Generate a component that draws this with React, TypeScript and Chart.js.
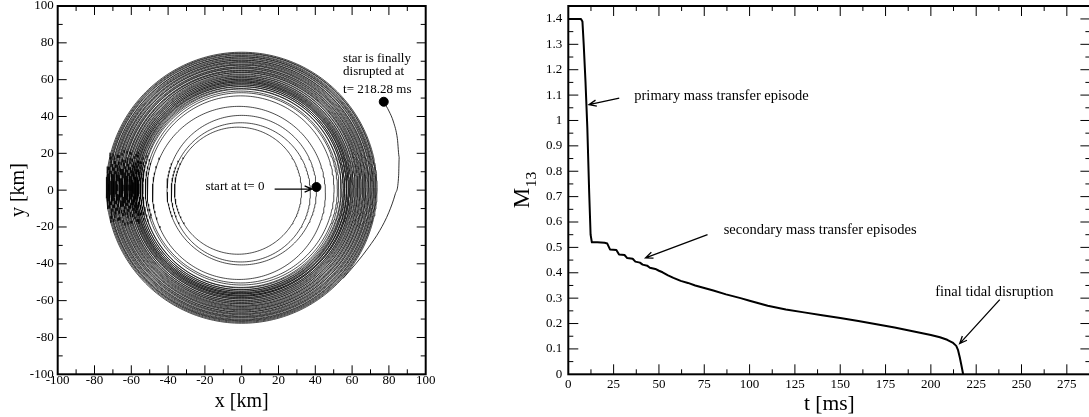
import React, { useEffect, useRef } from "react";
import { Chart, registerables } from "chart.js";
Chart.register(...registerables);

const FONT = "'Liberation Serif', 'Times New Roman', Times, serif";

// ---------------- left panel: orbit (x, y in km) ----------------
const orbitTicks = [-100, -80, -60, -40, -20, 0, 20, 40, 60, 80, 100];
const orbitMinorTicks = [-90, -70, -50, -30, -10, 10, 30, 50, 70, 90];

// loops of the orbit: mean radius and centre of each loop
const loopRadius = [
  34.5, 37.8, 40.6, 47.0,
  50.8, 52.2, 53.3, 54.0, 54.6, 55.1, 55.6, 56.0, 56.4, 56.8, 57.2, 57.5,
  57.9, 58.2, 58.6, 58.9, 59.3, 59.7, 60.1, 60.5, 61.0, 61.4, 61.9, 62.4,
  62.8, 63.2, 63.7, 64.1, 64.6, 65.0, 65.5, 65.9, 66.4, 66.8, 67.3, 67.7,
  68.2, 68.6, 69.1, 69.5, 70.0, 70.4, 70.9, 71.3, 71.8, 72.2, 72.7, 73.1, 73.6,
];
const loopCenterX = [
  -2.0, -0.5, 0.0, -1.5,
  -0.6, -0.2, -0.5, -0.1, -0.4, 0.0, -0.3, -0.1, -0.4, 0.0, -0.2, -0.3,
  0.0, -0.2, -0.1, -0.3, 0.0, -0.2, -0.1, 0.0, -0.2, 0.1, -0.1, 0.0,
  0.1, -0.1, 0.0, 0.1, -0.1, 0.0, 0.1, 0.0, -0.1, 0.1, 0.0, -0.1,
  0.0, 0.1, 0.0, -0.1, 0.1, 0.0, 0.0, 0.1, -0.1, 0.0, 0.1, 0.0, 0.0,
];
const loopCenterY = [
  -0.3, -1.2, 0.0, -1.5,
  0.4, 0.7, 0.5, 0.9, 0.6, 1.0, 0.7, 1.1, 0.8, 1.0, 0.9, 1.2,
  0.9, 1.1, 1.0, 1.3, 1.0, 1.2, 1.1, 1.3, 1.1, 1.3, 1.2, 1.4,
  1.2, 1.4, 1.3, 1.2, 1.4, 1.3, 1.3, 1.2, 1.4, 1.3, 1.2, 1.4,
  1.3, 1.3, 1.4, 1.2, 1.3, 1.3, 1.4, 1.2, 1.3, 1.3, 1.4, 1.3, 1.3,
];
const tailX = [55, 62, 69, 75, 80, 83.5, 85.3, 85.6, 84.6, 82.5, 80, 77.2];
const tailY = [-48, -40, -31, -22, -12, -2, 8, 18, 28, 37, 43, 48];
const markerX = [40.6, 77.2];
const markerY = [1.7, 48.0];

// ---------------- right panel: M13 vs t ----------------
const massTime = [
  0, 7, 7.8, 8.5, 9.5, 10.5, 11.5, 12.3, 13, 16,
  20, 21.5, 23, 26.5, 28, 31, 32.5, 35.5, 37, 39.5,
  41, 43.5, 45, 48, 50, 52, 55, 58, 62, 66,
  70, 75, 80, 87, 95, 100, 110, 120, 130, 140,
  150, 160, 170, 180, 190, 200, 205, 209, 212, 214,
  215, 216, 217, 217.8,
];
const massM13 = [
  1.4, 1.4, 1.39, 1.3, 1.15, 0.97, 0.72, 0.55, 0.52, 0.52,
  0.518, 0.515, 0.492, 0.49, 0.472, 0.47, 0.458, 0.455, 0.444, 0.44,
  0.432, 0.428, 0.42, 0.415, 0.408, 0.402, 0.39, 0.38, 0.368, 0.36,
  0.35, 0.34, 0.33, 0.315, 0.3, 0.29, 0.27, 0.255, 0.244, 0.233,
  0.222, 0.21, 0.197, 0.184, 0.17, 0.155, 0.146, 0.136, 0.125, 0.112,
  0.095, 0.065, 0.03, 0,
];
const timeTicks = [0, 25, 50, 75, 100, 125, 150, 175, 200, 225, 250, 275];
const timeMinorTicks = [12.5, 37.5, 62.5, 87.5, 112.5, 137.5, 162.5, 187.5, 212.5, 237.5, 262.5, 287.5];
const massTicks = [0, 0.1, 0.2, 0.3, 0.4, 0.5, 0.6, 0.7, 0.8, 0.9, 1.0, 1.1, 1.2, 1.3, 1.4];
const massMinorTicks = [0.05, 0.15, 0.25, 0.35, 0.45, 0.55, 0.65, 0.75, 0.85, 0.95, 1.05, 1.15, 1.25, 1.35];

// ---------------- drawing helpers ----------------
function drawTicksAndFrame(chart: any, xMajor: number[], xMinor: number[], yMajor: number[], yMinor: number[], major: number, minor: number) {
  const { ctx, chartArea: a } = chart;
  const xs = chart.scales.x;
  const ys = chart.scales.y;
  ctx.save();
  ctx.strokeStyle = "#000";
  ctx.lineWidth = 1;
  ctx.beginPath();
  const vx = (v: number, len: number) => {
    const p = xs.getPixelForValue(v);
    if (p <= a.left + 0.5 || p >= a.right - 0.5) return;
    ctx.moveTo(p, a.bottom); ctx.lineTo(p, a.bottom - len);
    ctx.moveTo(p, a.top); ctx.lineTo(p, a.top + len);
  };
  const vy = (v: number, len: number) => {
    const p = ys.getPixelForValue(v);
    if (p <= a.top + 0.5 || p >= a.bottom - 0.5) return;
    ctx.moveTo(a.left, p); ctx.lineTo(a.left + len, p);
    ctx.moveTo(a.right, p); ctx.lineTo(a.right - len, p);
  };
  xMajor.forEach((v) => vx(v, major));
  xMinor.forEach((v) => vx(v, minor));
  yMajor.forEach((v) => vy(v, major));
  yMinor.forEach((v) => vy(v, minor));
  ctx.stroke();
  ctx.lineWidth = 2;
  ctx.strokeRect(a.left, a.top, a.right - a.left, a.bottom - a.top);
  ctx.restore();
}

function drawArrow(chart: any, x1: number, y1: number, x2: number, y2: number) {
  const { ctx } = chart;
  const xs = chart.scales.x;
  const ys = chart.scales.y;
  const p1x = xs.getPixelForValue(x1), p1y = ys.getPixelForValue(y1);
  const p2x = xs.getPixelForValue(x2), p2y = ys.getPixelForValue(y2);
  const ang = Math.atan2(p2y - p1y, p2x - p1x);
  const h = 8, spread = 0.4;
  ctx.save();
  ctx.strokeStyle = "#000";
  ctx.lineWidth = 1.3;
  ctx.beginPath();
  ctx.moveTo(p1x, p1y);
  ctx.lineTo(p2x, p2y);
  ctx.moveTo(p2x - h * Math.cos(ang - spread), p2y - h * Math.sin(ang - spread));
  ctx.lineTo(p2x, p2y);
  ctx.lineTo(p2x - h * Math.cos(ang + spread), p2y - h * Math.sin(ang + spread));
  ctx.stroke();
  ctx.restore();
}

function drawLabel(chart: any, text: string, x: number, y: number, size: number) {
  const { ctx } = chart;
  ctx.save();
  ctx.font = `${size}px ${FONT}`;
  ctx.fillStyle = "#000";
  ctx.textAlign = "left";
  ctx.textBaseline = "middle";
  ctx.fillText(text, chart.scales.x.getPixelForValue(x), chart.scales.y.getPixelForValue(y));
  ctx.restore();
}

function drawTitleX(chart: any, text: string, y: number, size: number) {
  const { ctx, chartArea: a } = chart;
  ctx.save();
  ctx.font = `${size}px ${FONT}`;
  ctx.fillStyle = "#000";
  ctx.textAlign = "center";
  ctx.textBaseline = "middle";
  ctx.fillText(text, (a.left + a.right) / 2, y);
  ctx.restore();
}

const orbitDecor = {
  id: "orbitDecor",
  afterDraw(chart: any) {
    const inner = orbitTicks.slice(1, -1);
    drawTicksAndFrame(chart, inner, orbitMinorTicks, inner, orbitMinorTicks, 9, 5);
    drawLabel(chart, "star is finally", 55.1, 71.6, 13);
    drawLabel(chart, "disrupted at", 55.1, 64.3, 13);
    drawLabel(chart, "t= 218.28 ms", 55.1, 54.4, 13);
    drawLabel(chart, "start at t= 0", -19.7, 1.9, 13);
    drawArrow(chart, 17.9, 0.6, 38.2, 0.6);
    drawTitleX(chart, "x [km]", 401.7, 20);
    const { ctx, chartArea: a } = chart;
    ctx.save();
    ctx.font = `20px ${FONT}`;
    ctx.fillStyle = "#000";
    ctx.textAlign = "center";
    ctx.textBaseline = "middle";
    ctx.translate(18.3, (a.top + a.bottom) / 2);
    ctx.rotate(-Math.PI / 2);
    ctx.fillText("y [km]", 0, 0);
    ctx.restore();
  },
};

const massDecor = {
  id: "massDecor",
  afterDraw(chart: any) {
    drawTicksAndFrame(chart, timeTicks.slice(1), timeMinorTicks, massTicks.slice(1), massMinorTicks, 10, 5);
    drawLabel(chart, "primary mass transfer episode", 36.4, 1.094, 14.5);
    drawArrow(chart, 28.1, 1.088, 11.4, 1.062);
    drawLabel(chart, "secondary mass transfer episodes", 85.7, 0.567, 14.5);
    drawArrow(chart, 76.8, 0.55, 42.6, 0.459);
    drawLabel(chart, "final tidal disruption", 202.4, 0.324, 14.5);
    drawArrow(chart, 238, 0.294, 215.9, 0.121);
    drawTitleX(chart, "t [ms]", 404.5, 21.5);
    const { ctx, chartArea: a } = chart;
    ctx.save();
    ctx.fillStyle = "#000";
    ctx.textBaseline = "alphabetic";
    ctx.textAlign = "left";
    ctx.translate(21, (a.top + a.bottom) / 2);
    ctx.rotate(-Math.PI / 2);
    ctx.font = `23px ${FONT}`;
    const mW = ctx.measureText("M").width;
    ctx.font = `15.5px ${FONT}`;
    const sW = ctx.measureText("13").width;
    const start = -(mW + sW) / 2;
    ctx.font = `23px ${FONT}`;
    ctx.fillText("M", start, 7.8);
    ctx.font = `15.5px ${FONT}`;
    ctx.fillText("13", start + mW + 0.5, 14.5);
    ctx.restore();
  },
};

function baseAxis(extra: any) {
  return {
    type: "linear",
    grid: { display: false, drawTicks: false },
    border: { display: false },
    ...extra,
  };
}

export default function App() {
  const leftRef = useRef<HTMLCanvasElement | null>(null);
  const rightRef = useRef<HTMLCanvasElement | null>(null);

  useEffect(() => {
    Chart.defaults.font.family = FONT;
    const loopSets = loopRadius.map((r, i) => ({
      type: "scatter",
      data: Array.from({ length: 241 }, (_, j) => {
        const t = (j / 240) * 2 * Math.PI;
        return { x: loopCenterX[i] + r * Math.cos(t), y: loopCenterY[i] + r * Math.sin(t) };
      }),
      showLine: true,
      borderColor: "#000",
      borderWidth: 0.7,
      pointRadius: 0,
      tension: 0,
      order: 2,
    }));
    const left = new Chart(leftRef.current as HTMLCanvasElement, {
      type: "scatter",
      data: {
        datasets: [
          {
            data: markerX.map((x, i) => ({ x, y: markerY[i] })),
            pointRadius: 4.5,
            pointBackgroundColor: "#000",
            pointBorderColor: "#000",
            showLine: false,
            order: 0,
          },
          {
            data: tailX.map((x, i) => ({ x, y: tailY[i] })),
            showLine: true,
            borderColor: "#000",
            borderWidth: 0.8,
            pointRadius: 0,
            tension: 0.4,
            cubicInterpolationMode: "monotone",
            order: 1,
          },
          ...loopSets,
        ] as any,
      },
      options: {
        animation: false,
        responsive: false,
        events: [],
        layout: { padding: { top: 6, right: 14.3, left: 0, bottom: 0 } },
        plugins: { legend: { display: false }, tooltip: { enabled: false } },
        scales: {
          x: baseAxis({
            min: -100,
            max: 100,
            ticks: { stepSize: 20, autoSkip: false, maxRotation: 0, color: "#000", padding: 0, font: { size: 13, lineHeight: 1 } },
            afterFit: (s: any) => { s.height = 42.7; s.paddingLeft = 0; s.paddingRight = 0; },
          }),
          y: baseAxis({
            min: -100,
            max: 100,
            ticks: { stepSize: 20, autoSkip: false, color: "#000", padding: 4, font: { size: 13, lineHeight: 1 } },
            afterFit: (s: any) => { s.width = 57.7; s.paddingTop = 0; s.paddingBottom = 0; },
          }),
        },
      } as any,
      plugins: [orbitDecor],
    });

    const right = new Chart(rightRef.current as HTMLCanvasElement, {
      type: "scatter",
      data: {
        datasets: [
          {
            data: massTime.map((x, i) => ({ x, y: massM13[i] })),
            showLine: true,
            borderColor: "#000",
            borderWidth: 2,
            pointRadius: 0,
            tension: 0,
            borderJoinStyle: "round",
          },
        ] as any,
      },
      options: {
        animation: false,
        responsive: false,
        events: [],
        layout: { padding: { top: 6, right: 1.6, left: 0, bottom: 0 } },
        plugins: { legend: { display: false }, tooltip: { enabled: false } },
        scales: {
          x: baseAxis({
            min: 0,
            max: 288,
            afterBuildTicks: (s: any) => { s.ticks = timeTicks.map((v) => ({ value: v })); },
            ticks: { autoSkip: false, maxRotation: 0, color: "#000", padding: 4, font: { size: 13, lineHeight: 1 } },
            afterFit: (s: any) => { s.height = 42.7; s.paddingLeft = 0; s.paddingRight = 0; },
          }),
          y: baseAxis({
            min: 0,
            max: 1.451,
            afterBuildTicks: (s: any) => { s.ticks = massTicks.map((v) => ({ value: v })); },
            ticks: {
              autoSkip: false,
              color: "#000",
              padding: 6,
              font: { size: 13, lineHeight: 1 },
              callback: (v: any) => Number(v).toFixed(1).replace(/\.0$/, ""),
            },
            afterFit: (s: any) => { s.width = 68.3; s.paddingTop = 0; s.paddingBottom = 0; },
          }),
        },
      } as any,
      plugins: [massDecor],
    });

    return () => {
      left.destroy();
      right.destroy();
    };
  }, []);

  return (
    <div style={{ position: "fixed", left: 0, top: 0, width: 1089, height: 417, overflow: "hidden", background: "#fff" }}>
      <canvas ref={leftRef} width={440} height={417} style={{ position: "absolute", left: 0, top: 0, width: 440, height: 417 }} />
      <canvas ref={rightRef} width={592} height={417} style={{ position: "absolute", left: 500, top: 0, width: 592, height: 417 }} />
    </div>
  );
}
